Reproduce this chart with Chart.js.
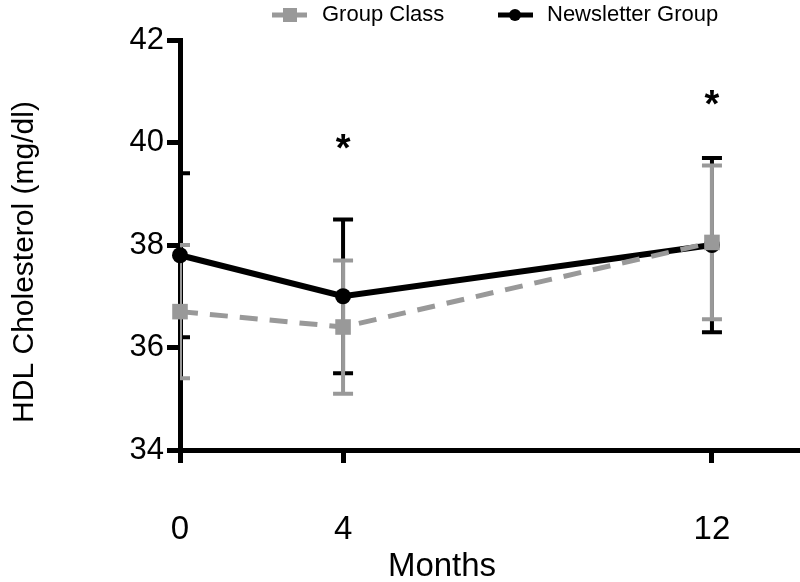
<!DOCTYPE html>
<html>
<head>
<meta charset="utf-8">
<script src="https://cdn.jsdelivr.net/npm/chart.js@4/dist/chart.umd.min.js"></script>
<style>
  html, body { margin: 0; padding: 0; background: #fff; }
  #wrap { width: 800px; height: 582px; position: relative; }
</style>
</head>
<body>
<div id="wrap"><canvas id="c" width="800" height="582"></canvas></div>
<script>
// ---- data ----
const months = [0, 4, 12];
const groupClassMean = [36.7, 36.4, 38.05];
const groupClassErr = [1.3, 1.3, 1.5];
const newsletterMean = [37.8, 37.0, 38.0];
const newsletterErr = [1.6, 1.5, 1.7];
const yTicks = [34, 36, 38, 40, 42];
const xTicks = [0, 4, 12];
const sigMonths = [4, 12];
const sigLevel = [40.0, 40.85];
const seriesNames = ['Group Class', 'Newsletter Group'];
const xTitle = 'Months';
const yTitle = 'HDL Cholesterol (mg/dl)';

const FONT = '"Liberation Sans", Arial, Helvetica, sans-serif';
const GRAY = '#999999';
const BLACK = '#000000';

// piecewise-linear x scale (axis is not evenly spaced in the original)
const KNOT_VALUES = [0, 4, 12, 14];
const KNOT_FRACS = [0, 0.263, 0.858, 1];
class PiecewiseLinearScale extends Chart.LinearScale {
  static id = 'piecewiseLinear';
  static defaults = Chart.LinearScale.defaults;
  toFrac(v) {
    const kv = KNOT_VALUES, kf = KNOT_FRACS;
    if (v <= kv[0]) return kf[0] + (v - kv[0]) * (kf[1] - kf[0]) / (kv[1] - kv[0]);
    for (let i = 1; i < kv.length; i++) {
      if (v <= kv[i]) return kf[i - 1] + (v - kv[i - 1]) * (kf[i] - kf[i - 1]) / (kv[i] - kv[i - 1]);
    }
    const n = kv.length - 1;
    return kf[n] + (v - kv[n]) * (kf[n] - kf[n - 1]) / (kv[n] - kv[n - 1]);
  }
  fromFrac(f) {
    const kv = KNOT_VALUES, kf = KNOT_FRACS;
    for (let i = 1; i < kf.length; i++) {
      if (f <= kf[i] || i === kf.length - 1) return kv[i - 1] + (f - kf[i - 1]) * (kv[i] - kv[i - 1]) / (kf[i] - kf[i - 1]);
    }
  }
  getPixelForValue(value) {
    if (value === null || value === undefined || isNaN(value)) return NaN;
    return this.getPixelForDecimal(this.toFrac(value));
  }
  getValueForPixel(pixel) {
    return this.fromFrac(this.getDecimalForPixel(pixel));
  }
}
Chart.register(PiecewiseLinearScale);

const errSets = [
  { mean: groupClassMean, err: groupClassErr, color: GRAY },
  { mean: newsletterMean, err: newsletterErr, color: BLACK }
];

const errorBarPlugin = {
  id: 'errorBars',
  beforeDatasetsDraw(chart) {
    const { ctx, chartArea, scales: { x, y } } = chart;
    ctx.save();
    ctx.beginPath();
    ctx.rect(chartArea.left, 0, chart.width - chartArea.left, chart.height);
    ctx.clip();
    // draw black first, then gray on top
    [errSets[1], errSets[0]].forEach(s => {
      ctx.strokeStyle = s.color;
      ctx.lineWidth = 4;
      ctx.lineCap = 'butt';
      months.forEach((m, i) => {
        const px = x.getPixelForValue(m);
        const yTop = y.getPixelForValue(s.mean[i] + s.err[i]);
        const yBot = y.getPixelForValue(s.mean[i] - s.err[i]);
        ctx.beginPath();
        ctx.moveTo(px, yTop); ctx.lineTo(px, yBot);
        ctx.moveTo(px - 10, yTop); ctx.lineTo(px + 10, yTop);
        ctx.moveTo(px - 10, yBot); ctx.lineTo(px + 10, yBot);
        ctx.stroke();
      });
    });
    ctx.restore();
  },
  afterDraw(chart) {
    const { ctx, scales: { x, y } } = chart;
    ctx.save();
    // significance asterisks
    ctx.fillStyle = BLACK;
    ctx.font = 'bold 38px ' + FONT;
    ctx.textAlign = 'center';
    ctx.textBaseline = 'alphabetic';
    sigMonths.forEach((m, i) => {
      ctx.fillText('*', x.getPixelForValue(m), y.getPixelForValue(sigLevel[i]) + 18);
    });
    // axis titles
    ctx.font = '33px ' + FONT;
    ctx.textAlign = 'center';
    ctx.fillText(xTitle, 442, 576);
    ctx.save();
    ctx.translate(33, 262);
    ctx.rotate(-Math.PI / 2);
    ctx.font = '30px ' + FONT;
    ctx.fillText(yTitle, 0, 0);
    ctx.restore();
    // legend
    ctx.font = '22px ' + FONT;
    ctx.textAlign = 'left';
    ctx.textBaseline = 'middle';
    const ly = 15;
    // Group Class
    ctx.strokeStyle = GRAY; ctx.lineWidth = 5;
    ctx.beginPath(); ctx.moveTo(272, ly); ctx.lineTo(307, ly); ctx.stroke();
    ctx.fillStyle = GRAY; ctx.fillRect(283, ly - 7, 14, 14);
    ctx.fillStyle = BLACK; ctx.fillText(seriesNames[0], 322, ly);
    // Newsletter
    ctx.strokeStyle = BLACK; ctx.lineWidth = 5;
    ctx.beginPath(); ctx.moveTo(498, ly); ctx.lineTo(533, ly); ctx.stroke();
    ctx.beginPath(); ctx.arc(515, ly, 6, 0, Math.PI * 2); ctx.fill();
    ctx.fillText(seriesNames[1], 547, ly);
    ctx.restore();
  }
};

new Chart(document.getElementById('c'), {
  type: 'line',
  data: {
    datasets: [
      {
        label: seriesNames[0],
        data: months.map((m, i) => ({ x: m, y: groupClassMean[i] })),
        borderColor: GRAY,
        backgroundColor: GRAY,
        borderWidth: 5,
        borderDash: [18, 12],
        pointStyle: 'rect',
        pointRadius: 11,
        pointBorderWidth: 0,
        pointBackgroundColor: GRAY,
        clip: false,
        tension: 0
      },
      {
        label: seriesNames[1],
        data: months.map((m, i) => ({ x: m, y: newsletterMean[i] })),
        borderColor: BLACK,
        backgroundColor: BLACK,
        borderWidth: 6,
        pointStyle: 'circle',
        pointRadius: 8,
        pointBorderWidth: 0,
        pointBackgroundColor: BLACK,
        clip: false,
        tension: 0
      }
    ]
  },
  options: {
    responsive: false,
    animation: false,
    events: [],
    layout: { autoPadding: false, padding: { top: 40, right: 0, left: 0, bottom: 0 } },
    plugins: { legend: { display: false }, tooltip: { enabled: false } },
    scales: {
      x: {
        type: 'piecewiseLinear',
        min: 0,
        max: 14,
        afterBuildTicks: s => { s.ticks = xTicks.map(v => ({ value: v })); },
        afterFit: s => { s.height = 132; },
        grid: { drawOnChartArea: false, drawTicks: true, tickLength: 13, tickWidth: 5, tickColor: BLACK },
        border: { display: true, width: 5, color: BLACK },
        ticks: { color: BLACK, font: { family: FONT, size: 33 }, padding: 47, maxRotation: 0, autoSkip: false }
      },
      y: {
        type: 'linear',
        min: 34,
        max: 42,
        afterBuildTicks: s => { s.ticks = yTicks.map(v => ({ value: v })); },
        afterFit: s => { s.width = 180; },
        grid: { drawOnChartArea: false, drawTicks: true, tickLength: 13, tickWidth: 5, tickColor: BLACK },
        border: { display: true, width: 5, color: BLACK },
        ticks: { color: BLACK, font: { family: FONT, size: 31 }, padding: 3 }
      }
    }
  },
  plugins: [errorBarPlugin]
});
</script>
</body>
</html>
